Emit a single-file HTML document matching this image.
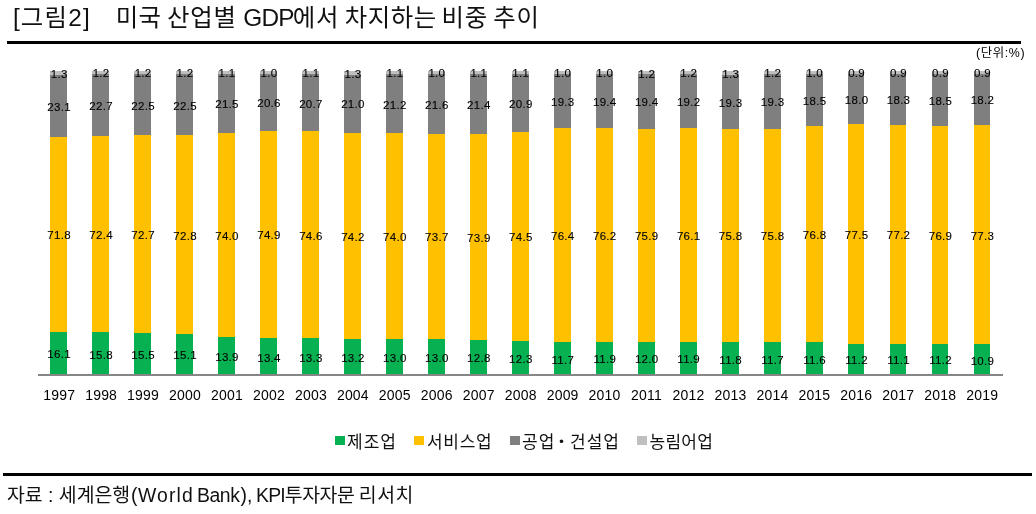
<!DOCTYPE html>
<html lang="ko">
<head>
<meta charset="utf-8">
<title>미국 산업별 GDP에서 차지하는 비중 추이</title>
<style>
html,body{margin:0;padding:0;background:#fff;}
body{width:1036px;height:514px;position:relative;overflow:hidden;font-family:"Liberation Sans","Noto Sans CJK KR",sans-serif;color:#000;}
.a{position:absolute;}
h1,p{margin:0;padding:0;font-weight:normal;font-size:inherit;}
.ttl,.legend,.item,.source{position:static;}
i{font-style:normal;display:block;}
.t{position:absolute;white-space:nowrap;line-height:1;}
.title{font-size:24.4px;top:6px;color:#111;}
.rule{position:absolute;background:#000;height:3px;}
.seg{position:absolute;width:17px;}
.g{background:#07b050;}
.y{background:#ffc000;}
.d{background:#7f7f7f;}
.l{background:#bfbfbf;}
.v{position:absolute;width:42px;text-align:center;font-size:11.5px;line-height:12px;height:12px;white-space:nowrap;letter-spacing:0.3px;text-indent:0.3px;-webkit-text-stroke:0.1px #000;}
.yr{position:absolute;width:42px;text-align:center;font-size:14px;line-height:14px;top:388px;white-space:nowrap;letter-spacing:0.2px;text-indent:0.2px;}
.lg{position:absolute;top:436px;width:10px;height:9px;}
.lt{position:absolute;top:434px;font-size:17px;line-height:18px;letter-spacing:1px;white-space:nowrap;color:#111;}
.unit{position:absolute;font-size:12.4px;line-height:13px;top:47px;left:976px;letter-spacing:0.6px;white-space:nowrap;}
.src{position:absolute;font-size:19.4px;line-height:20px;top:485px;left:7px;white-space:nowrap;color:#111;}
</style>
</head>
<body>
<h1 class="ttl"><span class="t title" style="left:12.9px;letter-spacing:1.2px">[그림2]</span> <span class="t title" style="left:115.8px;letter-spacing:0.3px">미국</span> <span class="t title" style="left:167px;letter-spacing:0.8px">산업별</span> <span class="t title" style="left:243.2px;letter-spacing:-0.7px">GDP</span><span class="t title" style="left:292.8px;letter-spacing:0.8px">에서</span> <span class="t title" style="left:344.7px;letter-spacing:0.55px">차지하는</span> <span class="t title" style="left:441.4px;letter-spacing:0.8px">비중</span> <span class="t title" style="left:493.3px;letter-spacing:0.8px">추이</span></h1>
<div class="rule" style="left:7px;top:41px;width:1014px"></div>
<div class="unit">(단위:%)</div>
<div class="seg l" style="left:50px;top:71px;height:4px;width:17px"></div><div class="seg d" style="left:50px;top:75px;height:62px;width:17px"></div><div class="seg y" style="left:50px;top:137px;height:195px;width:17px"></div><div class="seg g" style="left:50px;top:332px;height:43px;width:17px"></div>
<div class="v" style="left:38.00px;top:68px">1.3</div>
<div class="v" style="left:38.00px;top:101px">23.1</div>
<div class="v" style="left:38.00px;top:229px">71.8</div>
<div class="v" style="left:38.00px;top:348px">16.1</div>
<div class="yr" style="left:38.10px">1997</div>
<div class="seg l" style="left:92px;top:71px;height:3px;width:17px"></div><div class="seg d" style="left:92px;top:74px;height:62px;width:17px"></div><div class="seg y" style="left:92px;top:136px;height:196px;width:17px"></div><div class="seg g" style="left:92px;top:332px;height:43px;width:17px"></div>
<div class="v" style="left:79.97px;top:67px">1.2</div>
<div class="v" style="left:79.97px;top:100px">22.7</div>
<div class="v" style="left:79.97px;top:229px">72.4</div>
<div class="v" style="left:79.97px;top:349px">15.8</div>
<div class="yr" style="left:80.05px">1998</div>
<div class="seg l" style="left:134px;top:71px;height:3px;width:17px"></div><div class="seg d" style="left:134px;top:74px;height:61px;width:17px"></div><div class="seg y" style="left:134px;top:135px;height:198px;width:17px"></div><div class="seg g" style="left:134px;top:333px;height:42px;width:17px"></div>
<div class="v" style="left:121.94px;top:67px">1.2</div>
<div class="v" style="left:121.94px;top:100px">22.5</div>
<div class="v" style="left:121.94px;top:229px">72.7</div>
<div class="v" style="left:121.94px;top:349px">15.5</div>
<div class="yr" style="left:122.01px">1999</div>
<div class="seg l" style="left:176px;top:71px;height:3px;width:17px"></div><div class="seg d" style="left:176px;top:74px;height:61px;width:17px"></div><div class="seg y" style="left:176px;top:135px;height:199px;width:17px"></div><div class="seg g" style="left:176px;top:334px;height:41px;width:17px"></div>
<div class="v" style="left:163.91px;top:67px">1.2</div>
<div class="v" style="left:163.91px;top:100px">22.5</div>
<div class="v" style="left:163.91px;top:230px">72.8</div>
<div class="v" style="left:163.91px;top:349px">15.1</div>
<div class="yr" style="left:163.97px">2000</div>
<div class="seg l" style="left:218px;top:71px;height:3px;width:17px"></div><div class="seg d" style="left:218px;top:74px;height:59px;width:17px"></div><div class="seg y" style="left:218px;top:133px;height:204px;width:17px"></div><div class="seg g" style="left:218px;top:337px;height:38px;width:17px"></div>
<div class="v" style="left:205.88px;top:67px">1.1</div>
<div class="v" style="left:205.88px;top:98px">21.5</div>
<div class="v" style="left:205.88px;top:230px">74.0</div>
<div class="v" style="left:205.88px;top:351px">13.9</div>
<div class="yr" style="left:205.92px">2001</div>
<div class="seg l" style="left:260px;top:71px;height:3px;width:17px"></div><div class="seg d" style="left:260px;top:74px;height:57px;width:17px"></div><div class="seg y" style="left:260px;top:131px;height:207px;width:17px"></div><div class="seg g" style="left:260px;top:338px;height:37px;width:17px"></div>
<div class="v" style="left:247.85px;top:67px">1.0</div>
<div class="v" style="left:247.85px;top:97px">20.6</div>
<div class="v" style="left:247.85px;top:229px">74.9</div>
<div class="v" style="left:247.85px;top:352px">13.4</div>
<div class="yr" style="left:247.88px">2002</div>
<div class="seg l" style="left:302px;top:71px;height:3px;width:17px"></div><div class="seg d" style="left:302px;top:74px;height:57px;width:17px"></div><div class="seg y" style="left:302px;top:131px;height:207px;width:17px"></div><div class="seg g" style="left:302px;top:338px;height:37px;width:17px"></div>
<div class="v" style="left:289.82px;top:67px">1.1</div>
<div class="v" style="left:289.82px;top:98px">20.7</div>
<div class="v" style="left:289.82px;top:230px">74.6</div>
<div class="v" style="left:289.82px;top:352px">13.3</div>
<div class="yr" style="left:289.83px">2003</div>
<div class="seg l" style="left:344px;top:71px;height:4px;width:17px"></div><div class="seg d" style="left:344px;top:75px;height:58px;width:17px"></div><div class="seg y" style="left:344px;top:133px;height:206px;width:17px"></div><div class="seg g" style="left:344px;top:339px;height:36px;width:17px"></div>
<div class="v" style="left:331.79px;top:68px">1.3</div>
<div class="v" style="left:331.79px;top:98px">21.0</div>
<div class="v" style="left:331.79px;top:231px">74.2</div>
<div class="v" style="left:331.79px;top:352px">13.2</div>
<div class="yr" style="left:331.79px">2004</div>
<div class="seg l" style="left:386px;top:71px;height:3px;width:17px"></div><div class="seg d" style="left:386px;top:74px;height:59px;width:17px"></div><div class="seg y" style="left:386px;top:133px;height:206px;width:17px"></div><div class="seg g" style="left:386px;top:339px;height:36px;width:17px"></div>
<div class="v" style="left:373.76px;top:67px">1.1</div>
<div class="v" style="left:373.76px;top:99px">21.2</div>
<div class="v" style="left:373.76px;top:231px">74.0</div>
<div class="v" style="left:373.76px;top:352px">13.0</div>
<div class="yr" style="left:373.74px">2005</div>
<div class="seg l" style="left:428px;top:71px;height:3px;width:17px"></div><div class="seg d" style="left:428px;top:74px;height:60px;width:17px"></div><div class="seg y" style="left:428px;top:134px;height:205px;width:17px"></div><div class="seg g" style="left:428px;top:339px;height:36px;width:17px"></div>
<div class="v" style="left:415.73px;top:67px">1.0</div>
<div class="v" style="left:415.73px;top:99px">21.6</div>
<div class="v" style="left:415.73px;top:231px">73.7</div>
<div class="v" style="left:415.73px;top:352px">13.0</div>
<div class="yr" style="left:415.70px">2006</div>
<div class="seg l" style="left:470px;top:71px;height:3px;width:17px"></div><div class="seg d" style="left:470px;top:74px;height:60px;width:17px"></div><div class="seg y" style="left:470px;top:134px;height:206px;width:17px"></div><div class="seg g" style="left:470px;top:340px;height:35px;width:17px"></div>
<div class="v" style="left:457.70px;top:67px">1.1</div>
<div class="v" style="left:457.70px;top:99px">21.4</div>
<div class="v" style="left:457.70px;top:232px">73.9</div>
<div class="v" style="left:457.70px;top:352px">12.8</div>
<div class="yr" style="left:457.65px">2007</div>
<div class="seg l" style="left:512px;top:71px;height:3px;width:17px"></div><div class="seg d" style="left:512px;top:74px;height:58px;width:17px"></div><div class="seg y" style="left:512px;top:132px;height:209px;width:17px"></div><div class="seg g" style="left:512px;top:341px;height:34px;width:17px"></div>
<div class="v" style="left:499.67px;top:67px">1.1</div>
<div class="v" style="left:499.67px;top:98px">20.9</div>
<div class="v" style="left:499.67px;top:231px">74.5</div>
<div class="v" style="left:499.67px;top:353px">12.3</div>
<div class="yr" style="left:499.61px">2008</div>
<div class="seg l" style="left:554px;top:71px;height:3px;width:17px"></div><div class="seg d" style="left:554px;top:74px;height:54px;width:17px"></div><div class="seg y" style="left:554px;top:128px;height:214px;width:17px"></div><div class="seg g" style="left:554px;top:342px;height:33px;width:17px"></div>
<div class="v" style="left:541.64px;top:67px">1.0</div>
<div class="v" style="left:541.64px;top:96px">19.3</div>
<div class="v" style="left:541.64px;top:230px">76.4</div>
<div class="v" style="left:541.64px;top:354px">11.7</div>
<div class="yr" style="left:541.56px">2009</div>
<div class="seg l" style="left:596px;top:71px;height:3px;width:17px"></div><div class="seg d" style="left:596px;top:74px;height:54px;width:17px"></div><div class="seg y" style="left:596px;top:128px;height:214px;width:17px"></div><div class="seg g" style="left:596px;top:342px;height:33px;width:17px"></div>
<div class="v" style="left:583.61px;top:67px">1.0</div>
<div class="v" style="left:583.61px;top:96px">19.4</div>
<div class="v" style="left:583.61px;top:230px">76.2</div>
<div class="v" style="left:583.61px;top:353px">11.9</div>
<div class="yr" style="left:583.51px">2010</div>
<div class="seg l" style="left:638px;top:71px;height:3px;width:17px"></div><div class="seg d" style="left:638px;top:74px;height:55px;width:17px"></div><div class="seg y" style="left:638px;top:129px;height:213px;width:17px"></div><div class="seg g" style="left:638px;top:342px;height:33px;width:17px"></div>
<div class="v" style="left:625.58px;top:68px">1.2</div>
<div class="v" style="left:625.58px;top:96px">19.4</div>
<div class="v" style="left:625.58px;top:230px">75.9</div>
<div class="v" style="left:625.58px;top:353px">12.0</div>
<div class="yr" style="left:625.47px">2011</div>
<div class="seg l" style="left:680px;top:71px;height:3px;width:17px"></div><div class="seg d" style="left:680px;top:74px;height:54px;width:17px"></div><div class="seg y" style="left:680px;top:128px;height:214px;width:17px"></div><div class="seg g" style="left:680px;top:342px;height:33px;width:17px"></div>
<div class="v" style="left:667.55px;top:67px">1.2</div>
<div class="v" style="left:667.55px;top:96px">19.2</div>
<div class="v" style="left:667.55px;top:230px">76.1</div>
<div class="v" style="left:667.55px;top:353px">11.9</div>
<div class="yr" style="left:667.43px">2012</div>
<div class="seg l" style="left:722px;top:71px;height:4px;width:17px"></div><div class="seg d" style="left:722px;top:75px;height:54px;width:17px"></div><div class="seg y" style="left:722px;top:129px;height:213px;width:17px"></div><div class="seg g" style="left:722px;top:342px;height:33px;width:17px"></div>
<div class="v" style="left:709.52px;top:68px">1.3</div>
<div class="v" style="left:709.52px;top:97px">19.3</div>
<div class="v" style="left:709.52px;top:230px">75.8</div>
<div class="v" style="left:709.52px;top:354px">11.8</div>
<div class="yr" style="left:709.38px">2013</div>
<div class="seg l" style="left:764px;top:71px;height:3px;width:17px"></div><div class="seg d" style="left:764px;top:74px;height:55px;width:17px"></div><div class="seg y" style="left:764px;top:129px;height:213px;width:17px"></div><div class="seg g" style="left:764px;top:342px;height:33px;width:17px"></div>
<div class="v" style="left:751.49px;top:67px">1.2</div>
<div class="v" style="left:751.49px;top:96px">19.3</div>
<div class="v" style="left:751.49px;top:230px">75.8</div>
<div class="v" style="left:751.49px;top:354px">11.7</div>
<div class="yr" style="left:751.34px">2014</div>
<div class="seg l" style="left:806px;top:71px;height:3px;width:17px"></div><div class="seg d" style="left:806px;top:74px;height:52px;width:17px"></div><div class="seg y" style="left:806px;top:126px;height:216px;width:17px"></div><div class="seg g" style="left:806px;top:342px;height:33px;width:17px"></div>
<div class="v" style="left:793.46px;top:67px">1.0</div>
<div class="v" style="left:793.46px;top:95px">18.5</div>
<div class="v" style="left:793.46px;top:229px">76.8</div>
<div class="v" style="left:793.46px;top:354px">11.6</div>
<div class="yr" style="left:793.29px">2015</div>
<div class="seg l" style="left:848px;top:71px;height:3px;width:16px"></div><div class="seg d" style="left:848px;top:74px;height:50px;width:16px"></div><div class="seg y" style="left:848px;top:124px;height:220px;width:16px"></div><div class="seg g" style="left:848px;top:344px;height:31px;width:16px"></div>
<div class="v" style="left:835.43px;top:67px">0.9</div>
<div class="v" style="left:835.43px;top:94px">18.0</div>
<div class="v" style="left:835.43px;top:229px">77.5</div>
<div class="v" style="left:835.43px;top:354px">11.2</div>
<div class="yr" style="left:835.25px">2016</div>
<div class="seg l" style="left:890px;top:71px;height:3px;width:16px"></div><div class="seg d" style="left:890px;top:74px;height:51px;width:16px"></div><div class="seg y" style="left:890px;top:125px;height:219px;width:16px"></div><div class="seg g" style="left:890px;top:344px;height:31px;width:16px"></div>
<div class="v" style="left:877.40px;top:67px">0.9</div>
<div class="v" style="left:877.40px;top:94px">18.3</div>
<div class="v" style="left:877.40px;top:229px">77.2</div>
<div class="v" style="left:877.40px;top:354px">11.1</div>
<div class="yr" style="left:877.20px">2017</div>
<div class="seg l" style="left:932px;top:71px;height:3px;width:16px"></div><div class="seg d" style="left:932px;top:74px;height:52px;width:16px"></div><div class="seg y" style="left:932px;top:126px;height:218px;width:16px"></div><div class="seg g" style="left:932px;top:344px;height:31px;width:16px"></div>
<div class="v" style="left:919.37px;top:67px">0.9</div>
<div class="v" style="left:919.37px;top:95px">18.5</div>
<div class="v" style="left:919.37px;top:230px">76.9</div>
<div class="v" style="left:919.37px;top:354px">11.2</div>
<div class="yr" style="left:919.15px">2018</div>
<div class="seg l" style="left:974px;top:71px;height:3px;width:16px"></div><div class="seg d" style="left:974px;top:74px;height:51px;width:16px"></div><div class="seg y" style="left:974px;top:125px;height:219px;width:16px"></div><div class="seg g" style="left:974px;top:344px;height:31px;width:16px"></div>
<div class="v" style="left:961.34px;top:67px">0.9</div>
<div class="v" style="left:961.34px;top:94px">18.2</div>
<div class="v" style="left:961.34px;top:230px">77.3</div>
<div class="v" style="left:961.34px;top:355px">10.9</div>
<div class="yr" style="left:961.11px">2019</div>
<div class="a" style="left:38px;top:374px;width:965px;height:2px;background:#868686"></div>
<div class="legend">
<div class="item"><i class="lg g" style="left:335px"></i><span class="lt" style="left:347px;letter-spacing:1px">제조업</span></div>
<div class="item"><i class="lg y" style="left:414px"></i><span class="lt" style="left:427px;letter-spacing:0.7px">서비스업</span></div>
<div class="item"><i class="lg d" style="left:510px"></i><span class="lt" style="left:522px;letter-spacing:1px">공업</span><span class="lt" style="left:553px;letter-spacing:0px">・</span><span class="lt" style="left:570px;letter-spacing:1px">건설업</span></div>
<div class="item"><i class="lg l" style="left:637px"></i><span class="lt" style="left:649.6px;letter-spacing:0.25px">농림어업</span></div>
</div>
<div class="rule" style="left:3px;top:473px;width:1029px"></div>
<p class="source"><span class="src" style="left:7px;letter-spacing:0px">자료 : 세계은행</span><span class="src" style="left:131px;letter-spacing:0px">(</span><span class="src" style="left:138px;letter-spacing:1.1px">World</span> <span class="src" style="left:197px;letter-spacing:-0.45px">Bank</span><span class="src" style="left:240.5px;letter-spacing:0px">),</span> <span class="src" style="left:256px;letter-spacing:-0.8px">KPI</span><span class="src" style="left:284.7px;letter-spacing:-0.4px">투자자문</span> <span class="src" style="left:358.7px;letter-spacing:0.6px">리서치</span></p>
</body>
</html>
